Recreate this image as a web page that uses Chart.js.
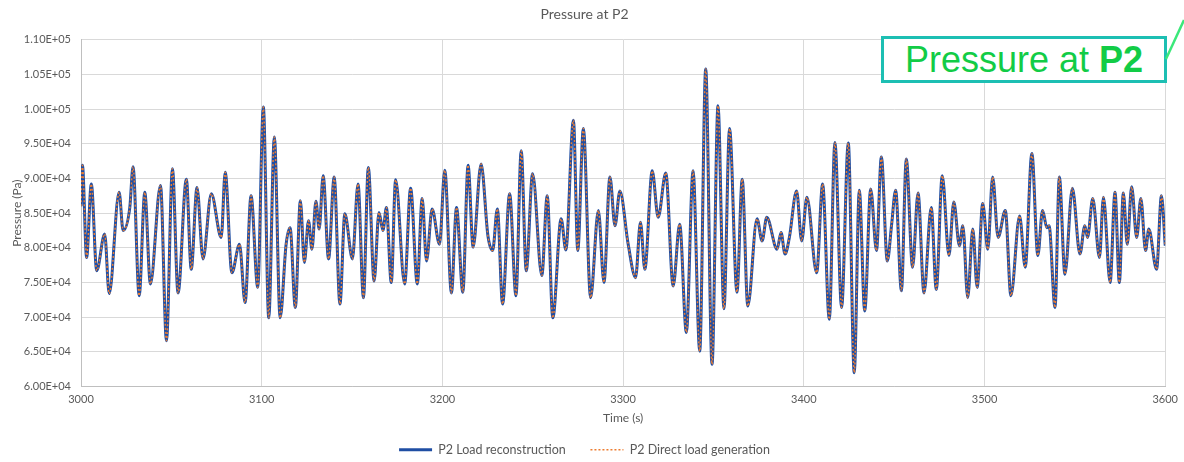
<!DOCTYPE html>
<html>
<head>
<meta charset="utf-8">
<title>Pressure at P2</title>
<script src="https://cdn.jsdelivr.net/npm/chart.js@4.4.1/dist/chart.umd.min.js"></script>
<style>
    body { margin: 0; background: #fff; }
    #wrap { position: relative; width: 1184px; height: 462px; overflow: hidden; }
    #callout {
        position: absolute; left: 881px; top: 36px; width: 280px; height: 41px;
        border: 3px solid #1dbfb3; background: #fff;
        font-family: "Liberation Sans", Arial, sans-serif; font-size: 36px;
        color: #12cc46; text-align: center; line-height: 41px;
    }
    #callout b { font-weight: bold; }
    #pointer { position: absolute; left: 1164px; top: 18px; }
</style>
</head>
<body>
<div id="wrap">
    <canvas id="pressureChart" width="1184" height="462"></canvas>
    <div id="callout">Pressure at <b>P2</b></div>
    <svg id="pointer" width="20" height="44"><line x1="2" y1="41" x2="20" y2="2" stroke="#3be87a" stroke-width="2.5"/></svg>
</div>
<script>
// Time (s) and pressure (Pa)
const times = [
    3000.0, 3000.8, 3003.1, 3005.7, 3008.7, 3013.1, 3015.6, 3021.1, 3023.3, 3027.0,
    3028.8, 3032.2, 3035.3, 3038.4, 3044.0, 3047.3, 3050.6, 3053.7, 3058.3, 3061.0,
    3064.2, 3067.5, 3072.1, 3077.6, 3079.8, 3083.5, 3087.7, 3090.8, 3094.1, 3097.8,
    3100.9, 3103.9, 3107.0, 3110.2, 3113.5, 3115.7, 3118.6, 3121.4, 3123.6, 3125.9,
    3127.8, 3130.0, 3131.8, 3134.0, 3137.0, 3140.1, 3143.3, 3146.0, 3150.2, 3153.3,
    3156.3, 3159.0, 3162.2, 3164.9, 3167.1, 3169.0, 3171.7, 3174.1, 3179.1, 3182.4,
    3186.1, 3188.8, 3191.2, 3194.3, 3198.4, 3201.3, 3205.0, 3207.8, 3211.3, 3214.2,
    3217.0, 3221.4, 3225.2, 3227.8, 3230.4, 3233.3, 3237.2, 3240.7, 3243.6, 3246.4,
    3249.9, 3255.0, 3258.0, 3261.1, 3265.7, 3268.3, 3272.5, 3274.9, 3278.0, 3282.0,
    3286.3, 3289.4, 3292.7, 3295.5, 3298.2, 3302.8, 3306.9, 3309.6, 3312.0, 3316.1,
    3319.4, 3323.6, 3327.7, 3331.3, 3335.0, 3338.7, 3342.4, 3345.7, 3349.2, 3352.5,
    3355.8, 3358.9, 3363.0, 3365.9, 3369.0, 3374.1, 3376.9, 3379.5, 3385.2, 3387.4,
    3389.6, 3392.0, 3396.0, 3398.8, 3401.7, 3407.1, 3410.4, 3414.1, 3417.2, 3420.9,
    3424.6, 3427.9, 3430.7, 3433.7, 3437.0, 3440.2, 3442.9, 3446.2, 3448.6, 3450.8,
    3454.0, 3456.7, 3460.2, 3463.2, 3466.5, 3470.5, 3473.3, 3476.6, 3480.3, 3483.0,
    3486.1, 3488.0, 3490.7, 3493.5, 3495.9, 3499.0, 3501.8, 3504.5, 3507.5, 3511.5,
    3514.6, 3519.4, 3522.5, 3526.2, 3529.5, 3532.1, 3534.5, 3535.7, 3539.0, 3541.4,
    3544.5, 3548.6, 3552.8, 3555.5, 3557.0, 3559.9, 3563.6, 3565.8, 3569.5, 3572.2,
    3574.6, 3576.8, 3579.0, 3581.4, 3584.2, 3586.5, 3589.1, 3590.9, 3595.2, 3597.9,
    3600.0
];
const reconstruction = [
    86000, 91900, 78600, 89200, 76700, 82000, 73400, 88000, 82500, 85800,
    91700, 73100, 88000, 74800, 89000, 66600, 91400, 73500, 89900, 76900,
    88700, 78400, 87800, 81500, 90900, 76400, 80500, 72100, 87500, 74300,
    100300, 69900, 96000, 69900, 80500, 82900, 71400, 86800, 77900, 83900,
    79800, 86700, 82700, 90400, 78400, 90200, 71900, 84900, 78400, 89200,
    72800, 91600, 75200, 85100, 82500, 85800, 75000, 89800, 74800, 88600,
    74800, 87100, 78100, 85600, 80500, 91200, 73500, 85800, 73600, 91900,
    80100, 92100, 81700, 79600, 85600, 71900, 87800, 73100, 94000, 76700,
    90700, 76000, 87500, 69900, 84200, 79700, 98400, 79600, 97200, 72800,
    85400, 75000, 90200, 83200, 88200, 80500, 75700, 83700, 76900, 91100,
    84400, 90800, 74500, 83400, 67800, 91100, 65100, 105800, 63200, 100500,
    71200, 97200, 73600, 89900, 71600, 84200, 81000, 84400, 79800, 82200,
    79100, 81500, 88200, 81000, 87300, 76400, 89200, 69700, 95200, 71400,
    95100, 62000, 88300, 70900, 88500, 79600, 93100, 78100, 83400, 88300,
    73800, 92800, 77200, 87900, 73500, 85800, 74000, 90400, 78900, 86600,
    80300, 83200, 72800, 82700, 74300, 86400, 79800, 90200, 81500, 85400,
    73100, 84600, 77200, 93600, 78900, 85400, 82900, 83200, 71400, 90200,
    76200, 88600, 79100, 83200, 81500, 87100, 78600, 87300, 75000, 88000,
    75000, 87900, 80500, 88800, 81500, 87100, 79600, 82700, 76900, 87500,
    80300
];
// the direct generation overlaps the reconstruction everywhere
const directGeneration = reconstruction.slice();

const seriesNames = ['P2 Load reconstruction', 'P2 Direct load generation'];
const xTicks = [3000, 3100, 3200, 3300, 3400, 3500, 3600];
const yTicks = [60000, 65000, 70000, 75000, 80000, 85000, 90000, 95000, 100000, 105000, 110000];

function toPoints(values) {
    return times.map((t, i) => ({ x: t, y: values[i] }));
}

// Excel-style scientific label, e.g. 1.10E+05
function sci(v) {
    const exp = Math.floor(Math.log10(v));
    const mant = (v / Math.pow(10, exp)).toFixed(2);
    return mant + 'E+' + String(exp).padStart(2, '0');
}

const FONT = 'Lato, "Open Sans", sans-serif';
const GREY = '#595959';

document.addEventListener('DOMContentLoaded', () => {
    const ctx = document.getElementById('pressureChart').getContext('2d');
    new Chart(ctx, {
        type: 'line',
        data: {
            datasets: [{
                label: seriesNames[0],
                data: toPoints(reconstruction),
                borderColor: '#1f4ea3',
                borderWidth: 3,
                pointRadius: 0,
                cubicInterpolationMode: 'monotone',
                pointStyle: 'line',
                order: 2
            }, {
                label: seriesNames[1],
                data: toPoints(directGeneration),
                borderColor: '#ed7d31',
                borderWidth: 1.5,
                borderDash: [2, 2],
                pointRadius: 0,
                cubicInterpolationMode: 'monotone',
                pointStyle: 'line',
                order: 1
            }]
        },
        options: {
            responsive: false,
            animation: false,
            layout: { padding: { left: 0, right: 15, top: 0, bottom: -4 } },
            scales: {
                x: {
                    type: 'linear',
                    min: 3000,
                    max: 3600,
                    afterBuildTicks: s => { s.ticks = xTicks.map(v => ({ value: v })); },
                    afterFit: s => { s.height = 51; },
                    grid: { color: '#d9d9d9', drawTicks: false },
                    border: { color: '#bfbfbf' },
                    ticks: { color: GREY, font: { family: FONT, size: 11 }, padding: 6, maxRotation: 0, callback: v => String(v) },
                    title: { display: true, text: 'Time (s)', color: GREY, font: { family: FONT, size: 12 }, padding: { top: 3, bottom: 12 } }
                },
                y: {
                    min: 60000,
                    max: 110000,
                    afterBuildTicks: s => { s.ticks = yTicks.map(v => ({ value: v })); },
                    afterFit: s => { s.width = 81; },
                    grid: { color: '#d9d9d9', drawTicks: false },
                    border: { color: '#bfbfbf' },
                    ticks: { color: GREY, font: { family: FONT, size: 11 }, padding: 10, callback: v => sci(v) },
                    title: { display: true, text: 'Pressure (Pa)', color: GREY, font: { family: FONT, size: 12 }, padding: { top: 10, bottom: 0 } }
                }
            },
            plugins: {
                title: {
                    display: true,
                    text: 'Pressure at P2',
                    color: GREY,
                    font: { family: FONT, size: 14, weight: 'normal' },
                    padding: { top: 6, bottom: 17 }
                },
                legend: {
                    position: 'bottom',
                    labels: {
                        color: GREY,
                        font: { family: FONT, size: 12.5 },
                        usePointStyle: true,
                        pointStyleWidth: 33,
                        boxHeight: 10,
                        padding: 6,
                        sort: (a, b) => a.datasetIndex - b.datasetIndex,
                        // legend samples take the line's own width and dash
                        generateLabels: chart => {
                            const items = Chart.defaults.plugins.legend.labels.generateLabels(chart);
                            items.forEach(item => {
                                const ds = chart.data.datasets[item.datasetIndex];
                                item.lineWidth = ds.borderWidth;
                                item.lineDash = ds.borderDash || [];
                                item.strokeStyle = ds.borderColor;
                                if (item.datasetIndex === 0) item.text += '\u2003\u2003';
                            });
                            return items;
                        }
                    }
                },
                tooltip: { enabled: false }
            }
        }
    });
});
</script>
</body>
</html>
